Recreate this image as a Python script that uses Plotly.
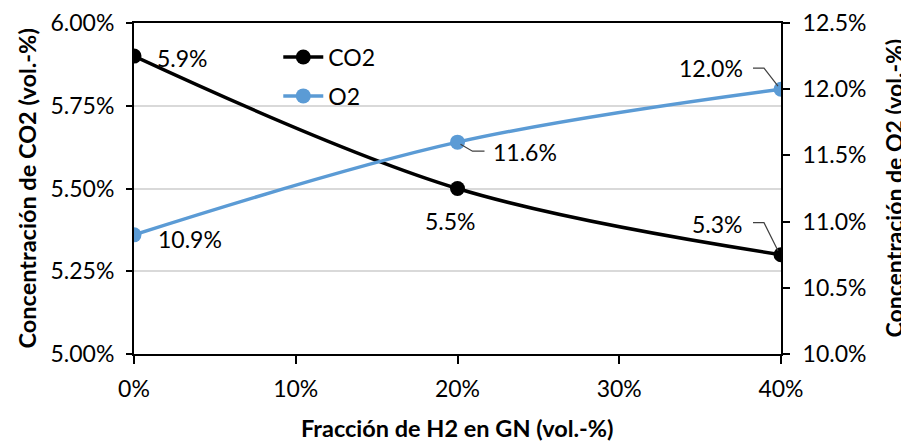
import plotly.graph_objects as go

# Data
h2_fraction = [0, 20, 40]          # Fracción de H2 en GN (vol.-%)
co2_values = [5.9, 5.5, 5.3]       # Concentración de CO2 (vol.-%)
o2_values = [10.9, 11.6, 12.0]     # Concentración de O2 (vol.-%)
series_names = ["CO2", "O2"]
x_title = "Fracción de H2 en GN (vol.-%)"
y_title = "Concentración de CO2 (vol.-%)"
y2_title = "Concentración de O2 (vol.-%)"

FONT = "Lato"
BLACK = "#000000"
BLUE = "#5B9BD5"
GRID = "#D9D9D9"

fig = go.Figure()
fig.add_trace(go.Scatter(
    x=h2_fraction, y=co2_values, name=series_names[0], mode="lines+markers",
    line=dict(color=BLACK, width=3.5, shape="spline", smoothing=1.0),
    marker=dict(color=BLACK, size=15), legendgroup="a", yaxis="y"))
fig.add_trace(go.Scatter(
    x=h2_fraction, y=o2_values, name=series_names[1], mode="lines+markers",
    line=dict(color=BLUE, width=3.5, shape="spline", smoothing=1.0),
    marker=dict(color=BLUE, size=15), legendgroup="b", yaxis="y2"))

# Data labels: (trace values, axis, index, xanchor, xshift, yshift)
label_specs = [
    (co2_values, "y", 0, "left", 21, -2),
    (co2_values, "y", 1, "center", -7, -32),
    (co2_values, "y", 2, "right", -36, 31),
    (o2_values, "y2", 0, "left", 22, -4),
    (o2_values, "y2", 1, "left", 33, -10),
    (o2_values, "y2", 2, "right", -36, 21),
]
for vals, yref, i, xa, xs, ys in label_specs:
    fig.add_annotation(x=h2_fraction[i], y=vals[i], xref="x", yref=yref,
                       text=f"{vals[i]:.1f}%", showarrow=False, xanchor=xa,
                       yanchor="middle", xshift=xs, yshift=ys,
                       font=dict(family=FONT, size=23, color=BLACK))

# Leader lines (pixel paths relative to the data point)
leaders = [
    (co2_values, "y", 2, "M -28,32 L -17,32 L -3,4"),
    (o2_values, "y2", 2, "M -28,21 L -17,21 L -3,3"),
    (o2_values, "y2", 1, "M 3,-2 L 15,-9 L 27,-9"),
]
for vals, yref, i, path in leaders:
    fig.add_shape(type="path", xref="x", yref=yref, xsizemode="pixel", ysizemode="pixel",
                  xanchor=h2_fraction[i], yanchor=vals[i], path=path,
                  line=dict(color="#404040", width=1.2))

axis_font = dict(family=FONT, size=23, color=BLACK)
title_font = dict(family=FONT, size=23.5, color=BLACK, weight="bold")

# Axis titles as annotations
fig.add_annotation(x=0.5, y=0, xref="paper", yref="paper", text=x_title, showarrow=False,
                   xanchor="center", yanchor="middle", yshift=-74, font=title_font)
fig.add_annotation(x=0, y=0.5, xref="paper", yref="paper", text=y_title, showarrow=False,
                   textangle=-90, xanchor="center", yanchor="middle", xshift=-108,
                   font=dict(family=FONT, size=23.5, color=BLACK, weight="bold"))
fig.add_annotation(x=1, y=0.5, xref="paper", yref="paper", text=y2_title, showarrow=False,
                   textangle=-90, xanchor="center", yanchor="middle", xshift=112,
                   font=dict(family=FONT, size=23, color=BLACK, weight="bold"))

# The page body adds an 8px margin, so the figure is sized/margined to compensate.
fig.update_layout(
    width=901, height=433,
    margin=dict(l=126, r=128, t=15, b=87, autoexpand=False),
    paper_bgcolor="white", plot_bgcolor="white",
    font=dict(family=FONT, size=23, color=BLACK),
    showlegend=True,
    legend=dict(x=0.223, y=0.962, xanchor="left", yanchor="top",
                bgcolor="rgba(0,0,0,0)", font=dict(family=FONT, size=23, color=BLACK),
                tracegroupgap=6, itemwidth=40),
    xaxis=dict(range=[0, 40], dtick=10, ticksuffix="%", tickfont=axis_font,
               showline=True, linecolor=BLACK, linewidth=2, mirror=True,
               ticks="outside", ticklen=8, tickcolor=BLACK, tickwidth=1.5,
               showgrid=False, zeroline=False, ticklabelstandoff=5, automargin=False),
    yaxis=dict(range=[5.0, 6.0], dtick=0.25, tickformat=".2f", ticksuffix="%",
               tickfont=axis_font, showline=True, linecolor=BLACK, linewidth=2,
               ticks="outside", ticklen=6, tickcolor=BLACK, tickwidth=1.5,
               showgrid=True, gridcolor=GRID, gridwidth=1.5, zeroline=False,
               ticklabelstandoff=7, automargin=False),
    yaxis2=dict(range=[10.0, 12.5], dtick=0.5, tickformat=".1f", ticksuffix="%",
                overlaying="y", side="right", tickfont=axis_font,
                showline=True, linecolor=BLACK, linewidth=2,
                ticks="outside", ticklen=7, tickcolor=BLACK, tickwidth=1.5,
                showgrid=False, zeroline=False, ticklabelstandoff=8, automargin=False),
)

fig.write_html("out.html")
